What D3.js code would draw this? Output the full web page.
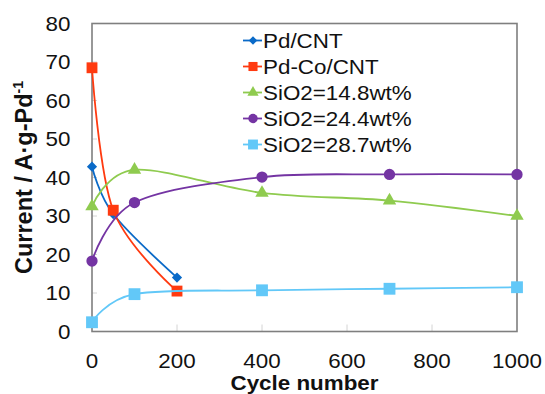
<!DOCTYPE html>
<html>
<head>
<meta charset="utf-8">
<script src="https://cdn.jsdelivr.net/npm/d3@7"></script>
<style>
  body { margin: 0; background: #fff; }
  text { font-family: Arial, "Liberation Sans", sans-serif; fill: #111; }
</style>
</head>
<body>
<svg id="canvas" width="545" height="394"></svg>
<script>
// chart values
let seriesNames = ["Pd/CNT", "Pd-Co/CNT", "SiO2=14.8wt%", "SiO2=24.4wt%", "SiO2=28.7wt%"];

let pdCntCycles = [0, 50, 200];
let pdCntCurrent = [42.8, 30.5, 14.0];

let pdCoCntCycles = [0, 50, 200];
let pdCoCntCurrent = [68.5, 31.5, 10.5];

let sio2_148Cycles = [0, 100, 400, 700, 1000];
let sio2_148Current = [32.5, 42.0, 36.0, 34.0, 30.0];

let sio2_244Cycles = [0, 100, 400, 700, 1000];
let sio2_244Current = [18.3, 33.5, 40.1, 40.8, 40.8];

let sio2_287Cycles = [0, 100, 400, 700, 1000];
let sio2_287Current = [2.4, 9.7, 10.7, 11.1, 11.5];

let xTicks = [0, 200, 400, 600, 800, 1000];
let yTicks = [0, 10, 20, 30, 40, 50, 60, 70, 80];

// styles (kept apart from data)
let styles = [
  { color: "#0A6AC8", symbol: d3.symbolSquare, size: 52, rotate: 45 },
  { color: "#FF3A10", symbol: d3.symbolSquare, size: 118, rotate: 0 },
  { color: "#8FCB4F", symbol: d3.symbolTriangle, size: 78, rotate: 0 },
  { color: "#7434A3", symbol: d3.symbolCircle, size: 100, rotate: 0 },
  { color: "#62C8F8", symbol: d3.symbolSquare, size: 140, rotate: 0 }
];

let seriesData = [
  [pdCntCycles, pdCntCurrent],
  [pdCoCntCycles, pdCoCntCurrent],
  [sio2_148Cycles, sio2_148Current],
  [sio2_244Cycles, sio2_244Current],
  [sio2_287Cycles, sio2_287Current]
].map(([xs, ys]) => xs.map((x, i) => ({ x: x, y: ys[i] })));

let plotLeft = 92, plotRight = 517, plotTop = 23.5, plotBottom = 331.5;
let stretch = 1.12;

let canvas = d3.select("#canvas");

let xScale = d3.scaleLinear().domain([0, 1000]).range([plotLeft, plotRight]);
let yScale = d3.scaleLinear().domain([0, 80]).range([plotBottom, plotTop]);

// tick marks (light, inside the plot)
canvas.selectAll(".ytick")
  .data(yTicks.slice(1, -1))
  .enter()
  .append("line")
  .attr("x1", plotLeft).attr("x2", plotLeft + 5)
  .attr("y1", (d) => yScale(d)).attr("y2", (d) => yScale(d))
  .attr("stroke", "#d4d4d4").attr("stroke-width", 1);

canvas.selectAll(".xtick")
  .data(xTicks.slice(1, -1))
  .enter()
  .append("line")
  .attr("x1", (d) => xScale(d)).attr("x2", (d) => xScale(d))
  .attr("y1", plotBottom).attr("y2", plotBottom - 7)
  .attr("stroke", "#d4d4d4").attr("stroke-width", 1);

// frame
canvas.append("rect")
  .attr("x", plotLeft).attr("y", plotTop)
  .attr("width", plotRight - plotLeft).attr("height", plotBottom - plotTop)
  .attr("fill", "none")
  .attr("stroke", "#7f7f7f")
  .attr("stroke-width", 1.6);

// tick labels
canvas.selectAll(".ylabel")
  .data(yTicks)
  .enter()
  .append("text")
  .attr("transform", (d) => `translate(70.5,${yScale(d) + 7}) scale(${stretch},1)`)
  .attr("text-anchor", "end")
  .attr("font-size", 20)
  .text((d) => d);

canvas.selectAll(".xlabel")
  .data(xTicks)
  .enter()
  .append("text")
  .attr("transform", (d) => `translate(${xScale(d)},367.5) scale(${stretch},1)`)
  .attr("text-anchor", "middle")
  .attr("font-size", 20)
  .text((d) => d);

// axis titles
canvas.append("text")
  .attr("transform", `translate(${(plotLeft + plotRight) / 2},390) scale(${stretch},1)`)
  .attr("text-anchor", "middle")
  .attr("font-size", 20)
  .attr("font-weight", "bold")
  .text("Cycle number");

let yTitle = canvas.append("text")
  .attr("transform", `translate(31.5,177.5) rotate(-90)`)
  .attr("text-anchor", "middle")
  .attr("font-size", 23.5)
  .attr("font-weight", "bold");
yTitle.append("tspan").text("Current / A\u00b7g-Pd");
yTitle.append("tspan").attr("font-size", 14).attr("dy", -9).text("-1");

// series
let line = d3.line()
  .x((d) => xScale(d.x))
  .y((d) => yScale(d.y))
  .curve(d3.curveCardinal.tension(0));

let symbolPath = (i) => d3.symbol().type(styles[i].symbol).size(styles[i].size)();

seriesData.forEach((points, i) => {
  let g = canvas.append("g");
  g.append("path")
    .attr("d", line(points))
    .attr("fill", "none")
    .attr("stroke", styles[i].color)
    .attr("stroke-width", 1.8);
  g.selectAll("path.marker")
    .data(points)
    .enter()
    .append("path")
    .attr("class", "marker")
    .attr("d", symbolPath(i))
    .attr("transform", (d) => `translate(${xScale(d.x)},${yScale(d.y)}) rotate(${styles[i].rotate})`)
    .attr("fill", styles[i].color);
});

// legend
let legend = canvas.selectAll(".legend")
  .data(seriesNames)
  .enter()
  .append("g")
  .attr("transform", (d, i) => `translate(243,${40.5 + i * 26})`);

legend.append("line")
  .attr("x1", 0).attr("x2", 19)
  .attr("stroke", (d, i) => styles[i].color)
  .attr("stroke-width", 1.8);

legend.append("path")
  .attr("d", (d, i) => d3.symbol().type(styles[i].symbol).size(styles[i].size * 0.7)())
  .attr("transform", (d, i) => `translate(10,0) rotate(${styles[i].rotate})`)
  .attr("fill", (d, i) => styles[i].color);

legend.append("text")
  .attr("transform", `translate(20,7) scale(${stretch},1)`)
  .attr("font-size", 20)
  .text((d) => d);
</script>
</body>
</html>
